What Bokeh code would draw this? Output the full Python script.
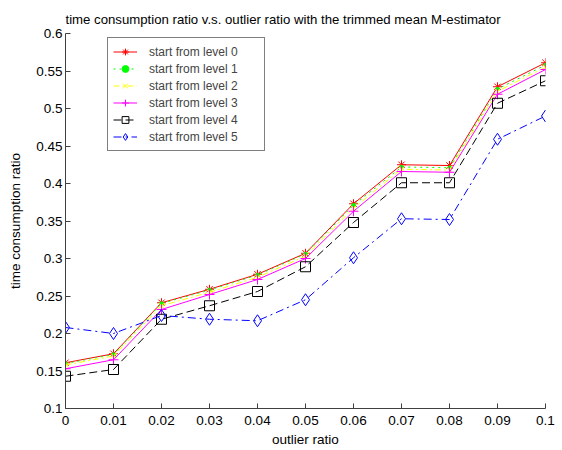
from bokeh.plotting import figure
from bokeh.models import Legend, LegendItem, FixedTicker, Range1d
from bokeh.embed import file_html
from bokeh.resources import INLINE

outlier_ratio = [0, 0.01, 0.02, 0.03, 0.04, 0.05, 0.06, 0.07, 0.08, 0.09, 0.1]
level0 = [0.161, 0.173, 0.241, 0.259, 0.279, 0.307, 0.373, 0.425, 0.424, 0.529, 0.561]
level1 = [0.160, 0.172, 0.240, 0.258, 0.278, 0.306, 0.371, 0.422, 0.421, 0.526, 0.558]
level2 = [0.158, 0.170, 0.237, 0.255, 0.275, 0.303, 0.367, 0.419, 0.418, 0.523, 0.555]
level3 = [0.153, 0.165, 0.232, 0.252, 0.272, 0.300, 0.363, 0.416, 0.415, 0.519, 0.552]
level4 = [0.143, 0.152, 0.219, 0.237, 0.256, 0.289, 0.348, 0.401, 0.401, 0.507, 0.537]
level5 = [0.208, 0.200, 0.224, 0.219, 0.217, 0.245, 0.301, 0.353, 0.352, 0.459, 0.490]
labels = ["start from level 0", "start from level 1", "start from level 2",
          "start from level 3", "start from level 4", "start from level 5"]
x_ticks = [0, 0.01, 0.02, 0.03, 0.04, 0.05, 0.06, 0.07, 0.08, 0.09, 0.1]
y_ticks = [0.1, 0.15, 0.2, 0.25, 0.3, 0.35, 0.4, 0.45, 0.5, 0.55, 0.6]

FONT = "Liberation Sans"
AX = "#404040"

p = figure(width=562, height=450, output_backend="svg", toolbar_location=None,
           x_range=Range1d(0, 0.1), y_range=Range1d(0.1, 0.6),
           title="time consumption ratio v.s. outlier ratio with the trimmed mean M-estimator",
           min_border_left=65, min_border_right=17, min_border_top=33, min_border_bottom=42)
p.outline_line_color = None
p.grid.visible = False
p.background_fill_color = "white"
p.border_fill_color = "white"

p.title.text_font = FONT
p.title.text_font_size = "13.2px"
p.title.text_font_style = "normal"
p.title.align = "left"
p.title.offset = 0
p.title.standoff = 14
p.title.text_color = "black"

for ax in (p.xaxis[0], p.yaxis[0]):
    ax.axis_line_color = AX
    ax.major_tick_line_color = AX
    ax.major_tick_in = 5
    ax.major_tick_out = 0
    ax.minor_tick_line_color = None
    ax.major_label_text_font = FONT
    ax.major_label_text_font_size = "13.5px"
    ax.major_label_text_color = "black"
    ax.axis_label_text_font = FONT
    ax.axis_label_text_font_size = "13.5px"
    ax.axis_label_text_font_style = "normal"
    ax.axis_label_text_color = "black"

p.xaxis.ticker = FixedTicker(ticks=x_ticks)
p.yaxis.ticker = FixedTicker(ticks=y_ticks)
p.xaxis.major_label_overrides = {0: "0", 0.1: "0.1"}
p.yaxis.major_label_overrides = {0.1: "0.1", 0.2: "0.2", 0.3: "0.3", 0.4: "0.4", 0.5: "0.5", 0.6: "0.6"}
p.xaxis.axis_label = "outlier ratio"
p.yaxis.axis_label = "time consumption ratio"
p.xaxis.major_label_standoff = 7
p.xaxis.axis_label_standoff = 4
p.yaxis.major_label_standoff = 3
p.yaxis.axis_label_standoff = 10

series = [level0, level1, level2, level3, level4, level5]
colors = ["#ff0000", "#00ff00", "#ffff00", "#ff00ff", "#000000", "#0000ff"]
dashes = ["solid", "dotted", "6 3 2 3", "solid", "8 4", "8 4 2 4"]
markers = ["asterisk", "circle", "x", "cross", "square", "diamond"]
msizes = [9, 3.5, 7, 10, 10, 12]

items = []
for ys, c, d, m, ms, lab in zip(series, colors, dashes, markers, msizes, labels):
    r1 = p.line(outlier_ratio, ys, line_color=c, line_dash=d, line_width=1)
    if m == "circle":
        r2 = p.scatter(outlier_ratio, ys, marker=m, size=ms, line_color=c, fill_color=c)
    else:
        r2 = p.scatter(outlier_ratio, ys, marker=m, size=ms, line_color=c, fill_color=None, line_width=1)
    items.append(LegendItem(label=lab, renderers=[r1, r2]))

legend = Legend(items=items, location=(42, 257), border_line_color="black", border_line_width=1,
                label_text_font=FONT, label_text_font_size="12px", glyph_width=24, glyph_height=17,
                label_height=17, label_width=110, spacing=0, padding=5, margin=0, label_standoff=12,
                background_fill_color="white", background_fill_alpha=1)
p.add_layout(legend)

open("out.html", "w").write(file_html(p, INLINE))
